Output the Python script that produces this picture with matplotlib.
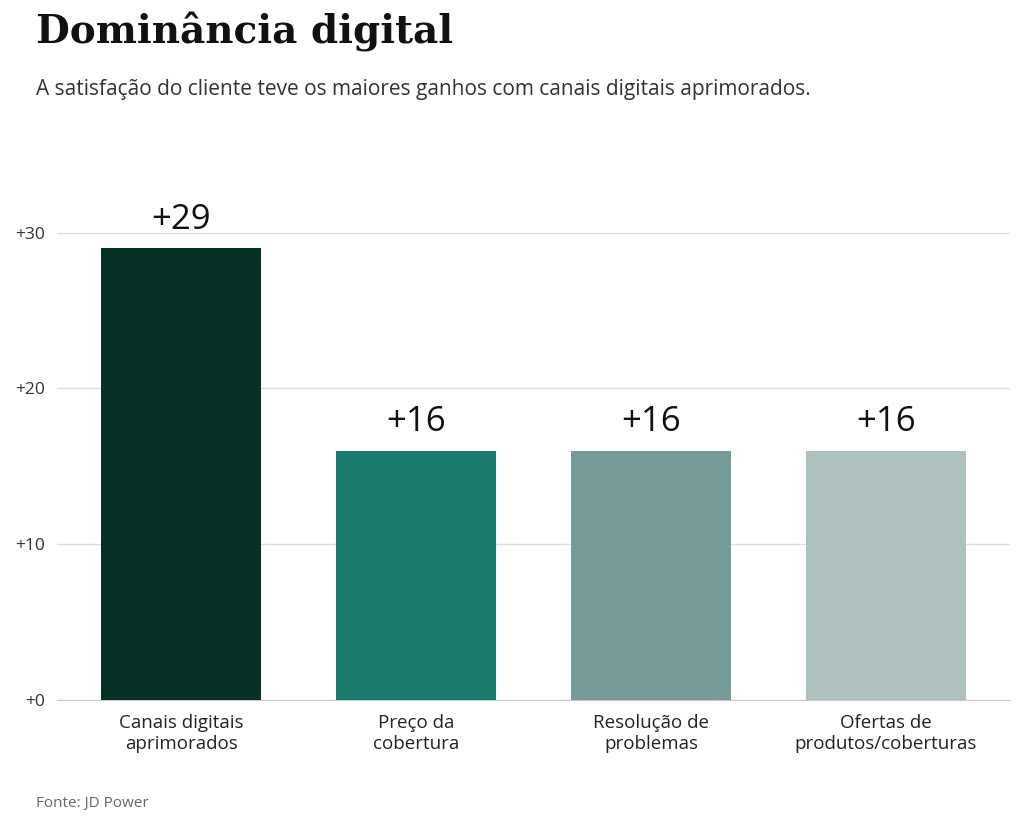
import matplotlib
matplotlib.use("Agg")
import matplotlib.pyplot as plt

categorias = ["Canais digitais\naprimorados", "Preço da\ncobertura",
              "Resolução de\nproblemas", "Ofertas de\nprodutos/coberturas"]
ganhos = [29, 16, 16, 16]
cores = ["#073127", "#1b7a6e", "#749b97", "#adc1bf"]
marcas_y = [0, 10, 20, 30]

fonte = "Open Sans"

fig = plt.figure(figsize=(10.24, 8.27), dpi=100)
ax = fig.add_axes([57 / 1024, 1 - 700 / 827, (1010 - 57) / 1024, (700 - 186) / 827])

x = list(range(len(categorias)))
barras = ax.bar(x, ganhos, width=0.68, color=cores, zorder=3)
for xi, v in zip(x, ganhos):
    ax.text(xi, v + 0.75, f"+{v}", ha="center", va="bottom", fontsize=25,
            family=fonte, color="#111111")

ax.set_xlim(-0.528, 3.528)
ax.set_ylim(0, 33)
ax.set_yticks(marcas_y)
ax.set_yticklabels([f"+{m}" for m in marcas_y], family=fonte, fontsize=12.5, color="#333333")
ax.set_xticks(x)
ax.set_xticklabels(categorias, family=fonte, fontsize=13.5, color="#222222", linespacing=1.25)
ax.tick_params(axis="both", length=0)
ax.tick_params(axis="x", pad=10)
ax.tick_params(axis="y", pad=9)
ax.grid(axis="y", color="#dddddd", linewidth=1, zorder=0)
for s in ["top", "right", "left"]:
    ax.spines[s].set_visible(False)
ax.spines["bottom"].set_color("#cccccc")

fig.text(36 / 1024, 1 - 32 / 827, "Dominância digital", family="DejaVu Serif",
         fontweight="bold", fontsize=28, color="#111111", va="center")
fig.text(36 / 1024, 1 - 89 / 827,
         "A satisfação do cliente teve os maiores ganhos com canais digitais aprimorados.",
         family=fonte, fontsize=15, color="#333333", va="center")
fig.text(36 / 1024, 1 - 804 / 827, "Fonte: JD Power", family=fonte, fontsize=11,
         color="#666666", va="center")

fig.savefig("out.png", dpi=100)
